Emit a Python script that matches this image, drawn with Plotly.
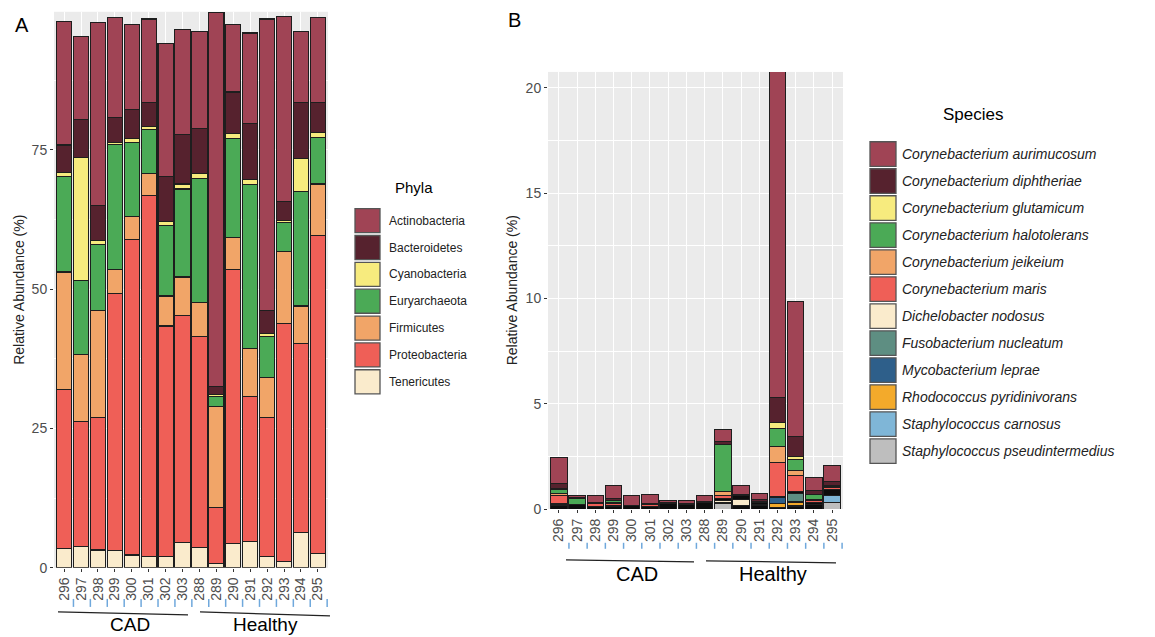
import plotly.graph_objects as go

W, H = 1155, 637
OFF_X, OFF_Y, SCALE_Y = 8, 8.2, 0.9856  # page placement observed in the browser

samples = ["296", "297", "298", "299", "300", "301", "302", "303",
           "288", "289", "290", "291", "292", "293", "294", "295"]
groups = ["CAD", "Healthy"]

# ---- Panel A: phyla (relative abundance, %) ----
phyla = ["Actinobacteria", "Bacteroidetes", "Cyanobacteria", "Euryarchaeota",
         "Firmicutes", "Proteobacteria", "Tenericutes"]
actinobacteria = [22.2, 14.9, 32.9, 17.8, 15.2, 14.9, 23.8, 18.9, 17.3, 67.0, 12.1, 16.2, 52.3, 33.2, 12.7, 15.1]
bacteroidetes = [4.9, 6.8, 6.2, 4.6, 5.3, 4.4, 8.1, 8.8, 8.2, 1.5, 7.5, 10.1, 4.2, 3.5, 10.1, 5.5]
cyanobacteria = [0.7, 22.1, 0.8, 0.3, 0.6, 0.5, 0.7, 0.9, 0.8, 0.3, 0.9, 0.9, 0.4, 0.3, 5.9, 0.8]
euryarchaeota = [17.2, 13.2, 11.8, 22.4, 13.4, 8.0, 12.7, 15.8, 22.2, 1.8, 17.7, 29.4, 7.4, 5.3, 20.5, 8.4]
firmicutes = [21.1, 12.1, 19.2, 4.3, 4.1, 3.8, 5.4, 6.9, 6.1, 18.2, 5.7, 8.6, 7.2, 12.8, 6.8, 9.2]
proteobacteria = [28.6, 22.4, 23.8, 46.2, 56.6, 64.9, 41.4, 40.7, 37.9, 10.1, 49.3, 26.1, 25.0, 42.8, 33.9, 57.1]
tenericutes = [3.4, 3.8, 3.2, 3.1, 2.3, 2.0, 2.0, 4.6, 3.7, 0.7, 4.3, 4.7, 2.0, 1.1, 6.3, 2.6]
phyla_values = [actinobacteria, bacteroidetes, cyanobacteria, euryarchaeota,
                firmicutes, proteobacteria, tenericutes]

# ---- Panel B: species (relative abundance, %) ----
species = ["Corynebacterium aurimucosum", "Corynebacterium diphtheriae",
           "Corynebacterium glutamicum", "Corynebacterium halotolerans",
           "Corynebacterium jeikeium", "Corynebacterium maris",
           "Dichelobacter nodosus", "Fusobacterium nucleatum",
           "Mycobacterium leprae", "Rhodococcus pyridinivorans",
           "Staphylococcus carnosus", "Staphylococcus pseudintermedius"]
aurimucosum = [1.24, 0.12, 0.30, 0.66, 0.44, 0.43, 0.10, 0.15, 0.32, 0.55, 0.43, 0.29, 15.45, 6.39, 0.63, 0.76]
diphtheriae = [0.23, 0.05, 0.06, 0.08, 0.04, 0.06, 0.05, 0.03, 0.04, 0.15, 0.03, 0.10, 1.20, 0.98, 0.17, 0.19]
glutamicum = [0.05, 0, 0, 0, 0, 0, 0, 0, 0, 0.02, 0, 0, 0.26, 0.13, 0, 0.03]
halotolerans = [0.17, 0.28, 0, 0.09, 0, 0, 0, 0, 0, 2.20, 0, 0, 0.87, 0.50, 0.25, 0]
jeikeium = [0.13, 0, 0, 0.03, 0, 0, 0, 0, 0, 0.19, 0, 0, 0.74, 0.27, 0.05, 0.07]
maris = [0.36, 0, 0.13, 0.12, 0, 0.08, 0, 0, 0, 0.14, 0, 0.08, 1.64, 0.77, 0.10, 0.08]
minor_mid = [0.05, 0, 0.04, 0.05, 0, 0.04, 0, 0, 0, 0.12, 0.22, 0.06, 0.03, 0.05, 0.08, 0.27]
dichelobacter = [0, 0, 0, 0, 0, 0, 0, 0, 0, 0.06, 0.24, 0, 0, 0, 0, 0]
fusobacterium = [0.07, 0, 0, 0, 0, 0, 0, 0, 0, 0.08, 0, 0.07, 0, 0.40, 0, 0]
mycobacterium = [0, 0, 0, 0, 0, 0, 0, 0, 0, 0, 0, 0, 0.30, 0.06, 0, 0]
rhodococcus = [0, 0, 0, 0, 0, 0, 0, 0, 0, 0, 0, 0, 0.20, 0.12, 0, 0.02]
carnosus = [0, 0, 0, 0, 0, 0, 0, 0, 0, 0, 0, 0, 0, 0.08, 0, 0.34]
pseudintermedius = [0, 0, 0, 0, 0, 0, 0, 0, 0, 0.25, 0, 0, 0, 0, 0, 0.30]
minor_low = [0.15, 0.20, 0.10, 0.11, 0.15, 0.10, 0.24, 0.21, 0.30, 0, 0.19, 0.16, 0.06, 0.10, 0.22, 0]

# stacking order, top to bottom (None = unlisted minor species, drawn black)
species_stack = [
    ("Corynebacterium aurimucosum", aurimucosum),
    ("Corynebacterium diphtheriae", diphtheriae),
    ("Corynebacterium glutamicum", glutamicum),
    ("Corynebacterium halotolerans", halotolerans),
    ("Corynebacterium jeikeium", jeikeium),
    ("Corynebacterium maris", maris),
    (None, minor_mid),
    ("Dichelobacter nodosus", dichelobacter),
    ("Fusobacterium nucleatum", fusobacterium),
    ("Mycobacterium leprae", mycobacterium),
    ("Rhodococcus pyridinivorans", rhodococcus),
    ("Staphylococcus carnosus", carnosus),
    ("Staphylococcus pseudintermedius", pseudintermedius),
    (None, minor_low),
]

phyla_colors = ["#A04455", "#56222E", "#F7EB7E", "#4BAA56", "#F1A568", "#EF5F57", "#FAEBCC"]
species_colors = ["#A04455", "#56222E", "#F7EB7E", "#4BAA56", "#F1A568", "#EF5F57",
                  "#FAEBCC", "#5E8E82", "#2E5F8A", "#F3AA2B", "#7FB6D7", "#BEBEBE"]
minor_color = "#0d0d0d"

FONT = "Liberation Sans, Arial, sans-serif"


def px_x(p):
    return (p - OFF_X) / W


def px_y(p):
    return 1 - (p - OFF_Y) / (SCALE_Y * H)


def nz(vals):
    return [v if v else None for v in vals]


fig = go.Figure()

# Panel A traces (bottom first)
for name, vals, col in reversed(list(zip(phyla, phyla_values, phyla_colors))):
    fig.add_trace(go.Bar(x=samples, y=nz(vals), name=name, marker_color=col,
                         marker_line=dict(color="#1e1e1e", width=1.1),
                         xaxis="x", yaxis="y", showlegend=False))

# Panel B traces (bottom first)
spec_color = dict(zip(species, species_colors))
for name, vals in reversed(species_stack):
    col = spec_color[name] if name else minor_color
    fig.add_trace(go.Bar(x=samples, y=nz(vals), name=name or "Other species",
                         marker_color=col,
                         marker_line=dict(color="#1e1e1e", width=1),
                         xaxis="x2", yaxis="y2", showlegend=False))

common_x = dict(type="category", categoryorder="array", categoryarray=samples,
                tickmode="array", tickvals=samples, ticktext=samples,
                range=[-0.6, 15.6], showgrid=True, gridcolor="white", gridwidth=1,
                ticks="outside", ticklen=3, tickcolor="#333333", tickangle=-90,
                tickfont=dict(family=FONT, size=14, color="#4D4D4D"),
                showline=False, zeroline=False)
common_y = dict(showgrid=True, gridcolor="white", gridwidth=1.1,
                ticks="outside", ticklen=3, tickcolor="#333333",
                tickfont=dict(family=FONT, size=14, color="#4D4D4D"),
                showline=False, zeroline=False)

fig.update_layout(
    width=W, height=H,
    margin=dict(l=0, r=0, t=0, b=0),
    paper_bgcolor="white", plot_bgcolor="#EBEBEB",
    barmode="stack", bargap=0.1,
    font=dict(family=FONT, color="#222222"),
    xaxis=dict(domain=[px_x(54), px_x(328)], anchor="y", **common_x),
    yaxis=dict(domain=[px_y(567), px_y(12)], anchor="x", range=[0, 99.8],
               tickvals=[0, 25, 50, 75],
               minor=dict(tickvals=[12.5, 37.5, 62.5, 87.5], showgrid=True,
                          gridcolor="white", gridwidth=0.6, ticks=""),
               **common_y),
    xaxis2=dict(domain=[px_x(548), px_x(843)], anchor="y2", **common_x),
    yaxis2=dict(domain=[px_y(508.3), px_y(72)], anchor="x2", range=[0, 20.75],
                tickvals=[0, 5, 10, 15, 20],
                minor=dict(tickvals=[2.5, 7.5, 12.5, 17.5], showgrid=True,
                           gridcolor="white", gridwidth=0.6, ticks=""),
                **common_y),
)

ann = []
shapes = []


def text_ann(text, x, y, size, color="black", angle=0, xanchor="center"):
    ann.append(dict(text=text, x=px_x(x), y=px_y(y), xref="paper", yref="paper",
                    xanchor=xanchor, yanchor="middle", showarrow=False, textangle=angle,
                    font=dict(family=FONT, size=size, color=color)))


# Panel letters
text_ann("A", 22, 25, 20)
text_ann("B", 514, 20, 20)

# Y axis titles
text_ann("Relative Abundance (%)", 19, 289.5, 14, "#222222", -90)
text_ann("Relative Abundance (%)", 512, 290, 14, "#222222", -90)

# Group brackets and labels
bracket_specs = [
    (58, 611, 188, 614, 130, 624, 19),
    (200, 611, 330, 615, 265, 624, 19),
    (566, 559, 694, 561, 637, 573, 20),
    (706, 560, 836, 562, 773, 573, 20),
]
for (x0, y0, x1, y1, lx, ly, fs), g in zip(bracket_specs, groups + groups):
    shapes.append(dict(type="line", xref="paper", yref="paper",
                       x0=px_x(x0), y0=px_y(y0), x1=px_x(x1), y1=px_y(y1),
                       line=dict(color="#222222", width=1.2)))
    text_ann(g, lx, ly, fs)

# small blue marks under the tick labels
for xa, (ya0, ya1) in [("x", (598, 606)), ("x2", (542, 548))]:
    for i in range(len(samples)):
        shapes.append(dict(type="line", xref=xa, yref="paper",
                           x0=i + 0.55, x1=i + 0.55, y0=px_y(ya1), y1=px_y(ya0),
                           line=dict(color="#6FA8DC", width=1.5)))


# Manual legends (large swatches)
def add_legend(title, tx, ty, tsize, labels, colors, sx0, sx1, y0, step, sh,
               lab_x, lab_size, italic):
    text_ann(title, tx, ty, tsize)
    for k, (lab, col) in enumerate(zip(labels, colors)):
        top = y0 + k * step
        shapes.append(dict(type="rect", xref="paper", yref="paper",
                           x0=px_x(sx0), x1=px_x(sx1), y0=px_y(top + sh), y1=px_y(top),
                           fillcolor=col, line=dict(color="#555555", width=1.3)))
        txt = f"<i>{lab}</i>" if italic else lab
        text_ann(txt, lab_x, top + sh / 2, lab_size, "#222222", 0, "left")


add_legend("Phyla", 414, 187, 15, phyla, phyla_colors, 355, 380, 208.5, 26.8, 24,
           387, 12, False)
add_legend("Species", 973, 115, 17, species, species_colors, 870, 896, 141.7, 26.96, 24.5,
           900, 14, True)

fig.update_layout(annotations=ann, shapes=shapes)

fig.write_html("out.html")
